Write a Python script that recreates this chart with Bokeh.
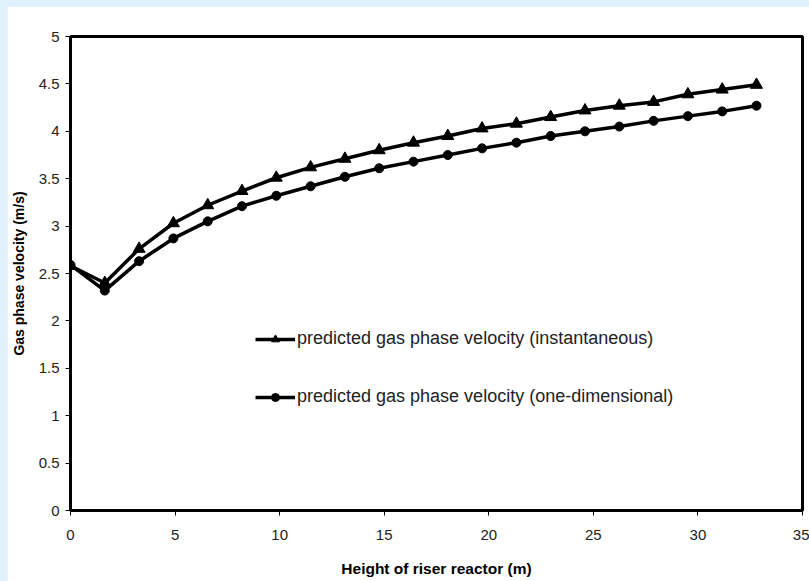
from bokeh.plotting import figure
from bokeh.models import Legend, LegendItem, FixedTicker, Range1d
from bokeh.layouts import column
from bokeh.embed import file_html
from bokeh.resources import INLINE

height_m = [0.0, 1.64, 3.28, 4.92, 6.56, 8.2, 9.84, 11.48, 13.12, 14.76, 16.4,
            18.04, 19.68, 21.32, 22.96, 24.6, 26.24, 27.88, 29.52, 31.16, 32.8]
v_inst = [2.58, 2.40, 2.76, 3.03, 3.22, 3.37, 3.51, 3.62, 3.71, 3.80, 3.88,
          3.95, 4.03, 4.08, 4.15, 4.22, 4.27, 4.31, 4.39, 4.44, 4.49]
v_1d = [2.59, 2.32, 2.63, 2.87, 3.05, 3.21, 3.32, 3.42, 3.52, 3.61, 3.68,
        3.75, 3.82, 3.88, 3.95, 4.00, 4.05, 4.11, 4.16, 4.21, 4.27]
x_ticks = [0, 5, 10, 15, 20, 25, 30, 35]
y_ticks = [0, 0.5, 1, 1.5, 2, 2.5, 3, 3.5, 4, 4.5, 5]
label_inst = "predicted gas phase velocity (instantaneous)"
label_1d = "predicted gas phase velocity (one-dimensional)"

p = figure(width=802, height=575, output_backend="svg", toolbar_location=None,
           x_range=Range1d(0, 35), y_range=Range1d(0, 5),
           min_border_left=63, min_border_top=30, min_border_right=7, min_border_bottom=71,
           background_fill_color="white", border_fill_color="white")
p.grid.visible = False
p.outline_line_color = "black"
p.outline_line_width = 3

for ax in (p.xaxis[0], p.yaxis[0]):
    ax.axis_line_color = "black"
    ax.axis_line_width = 3
    ax.major_tick_line_color = "black"
    ax.major_tick_line_width = 1
    ax.major_tick_out = 5
    ax.major_tick_in = 0
    ax.minor_tick_line_color = None
    ax.major_label_text_font = "Liberation Sans"
    ax.major_label_text_font_size = "15px"
    ax.major_label_text_color = "#222222"
    ax.axis_label_text_font = "Liberation Sans"
    ax.axis_label_text_font_style = "bold"
    ax.axis_label_text_color = "black"

p.xaxis.axis_label_text_font_size = "15.5px"
p.yaxis.axis_label_text_font_size = "14px"

p.xaxis.ticker = FixedTicker(ticks=x_ticks)
p.yaxis.ticker = FixedTicker(ticks=y_ticks)
p.xaxis.major_label_overrides = {t: f"{t:g}" for t in x_ticks}
p.yaxis.major_label_overrides = {t: f"{t:g}" for t in y_ticks}
p.xaxis.axis_label = "Height of riser reactor (m)"
p.yaxis.axis_label = "Gas phase velocity (m/s)"
p.xaxis.major_label_standoff = 14
p.xaxis.axis_label_standoff = 17
p.yaxis.major_label_standoff = 6
p.yaxis.axis_label_standoff = 9

l1 = p.line(height_m, v_inst, line_color="black", line_width=3.5)
m1 = p.scatter(height_m, v_inst, marker="triangle", size=12, fill_color="black", line_color="black")
l2 = p.line(height_m, v_1d, line_color="black", line_width=3.5)
m2 = p.scatter(height_m, v_1d, marker="circle", size=9, fill_color="black", line_color="black")

legend = Legend(items=[LegendItem(label=label_inst, renderers=[l1, m1]),
                       LegendItem(label=label_1d, renderers=[l2, m2])],
                location=(185, 103), glyph_width=40, glyph_height=20, spacing=37,
                padding=0, margin=0, label_standoff=2,
                label_text_font="Liberation Sans", label_text_font_size="18px",
                label_text_color="#222222",
                border_line_color=None, background_fill_alpha=0)
p.add_layout(legend, "center")

layout = column(p, width=809, height=581,
                styles={"background-color": "#dff1fb", "padding": "6px 0 0 7px",
                        "box-sizing": "border-box"})

open("out.html", "w").write(file_html(layout, INLINE))
